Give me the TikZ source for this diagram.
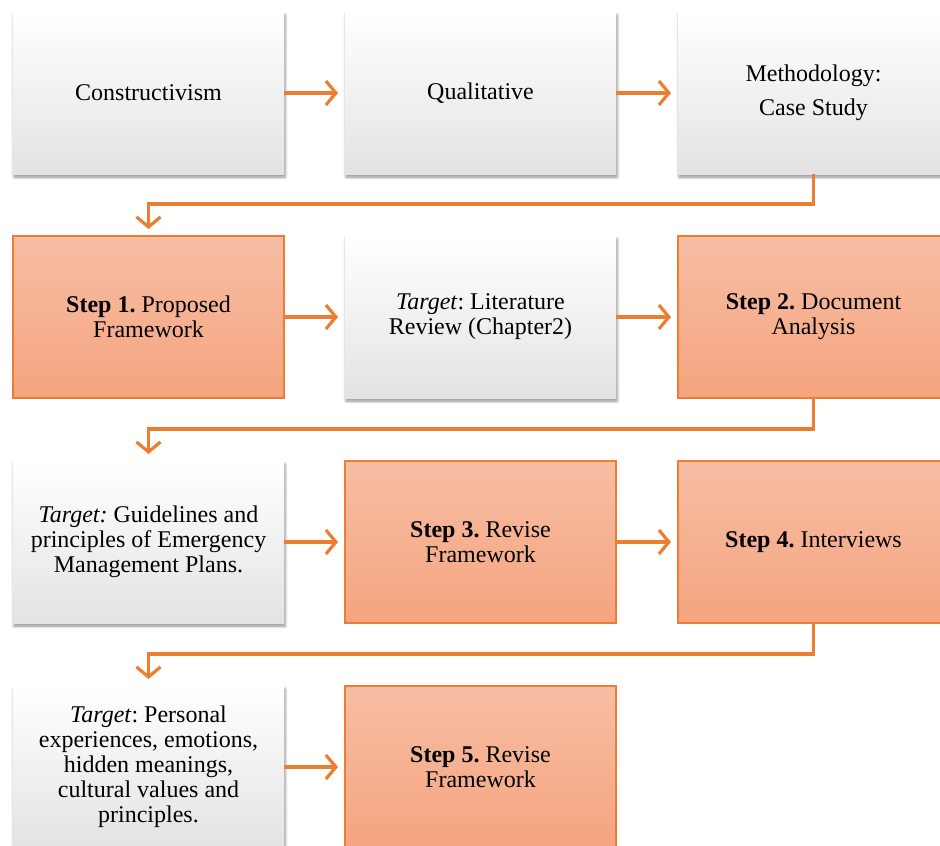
\documentclass[tikz,border=0pt]{standalone}
\usepackage{fontspec}
\setmainfont{Liberation Serif}
\usetikzlibrary{positioning,arrows.meta,shadows.blur}
\definecolor{flow}{HTML}{ED7D31}
\definecolor{steptop}{HTML}{F7BEA4}
\definecolor{stepbot}{HTML}{F5A47F}
\frenchspacing

\begin{document}
\begin{tikzpicture}[x=1pt,y=1pt,
box/.style={minimum width=271pt, minimum height=162pt, inner sep=2pt, outer sep=0pt,
    align=center, font=\fontsize{24}{25}\selectfont},
plain/.style={box, top color=white, middle color=white, bottom color=black!11,
    blur shadow={shadow xshift=1pt, shadow yshift=-3pt, shadow blur radius=3pt, shadow opacity=45}},
stepbox/.style={box, draw=flow, line width=1.2pt, top color=steptop, bottom color=stepbot},
link/.style={draw=flow, line width=3.2pt, -{Straight Barb[length=10pt,width=24pt]}, shorten >=7pt}]
\clip (0,0) rectangle (940,-846);
\useasboundingbox (0,0) rectangle (940,-846);
% row 1
\node[plain, anchor=north west] (cons) at (13,-12) {Constructivism};
\node[plain, right=61pt of cons] (qual) {Qualitative};
\node[plain, right=62pt of qual] (meth) {Methodology:\\[9pt]Case Study};
% row 2
\node[stepbox, below=62pt of cons] (step1) {\textbf{Step 1.} Proposed\\Framework};
\node[plain, right=61pt of step1] (lit) {\textit{Target}: Literature\\Review (Chapter2)};
\node[stepbox, right=62pt of lit] (step2) {\textbf{Step 2.} Document\\Analysis};
% row 3
\node[plain, below=63pt of step1] (guide) {\textit{Target:} Guidelines and\\principles of Emergency\\Management Plans.};
\node[stepbox, right=61pt of guide] (step3) {\textbf{Step 3.} Revise\\Framework};
\node[stepbox, right=62pt of step3] (step4) {\textbf{Step 4.} Interviews};
% row 4
\node[plain, below=63pt of guide] (pers) {\textit{Target}: Personal\\experiences, emotions,\\hidden meanings,\\cultural values and\\principles.};
\node[stepbox, right=61pt of pers] (step5) {\textbf{Step 5.} Revise\\Framework};
% connectors
\draw[link] (cons) -- (qual);
\draw[link] (qual) -- (meth);
\draw[link] (meth.south) -- ++(0,-30) -| (step1.north);
\draw[link] (step1) -- (lit);
\draw[link] (lit) -- (step2);
\draw[link] (step2.south) -- ++(0,-31) -| (guide.north);
\draw[link] (guide) -- (step3);
\draw[link] (step3) -- (step4);
\draw[link] (step4.south) -- ++(0,-31) -| (pers.north);
\draw[link] (pers) -- (step5);
\end{tikzpicture}
\end{document}
